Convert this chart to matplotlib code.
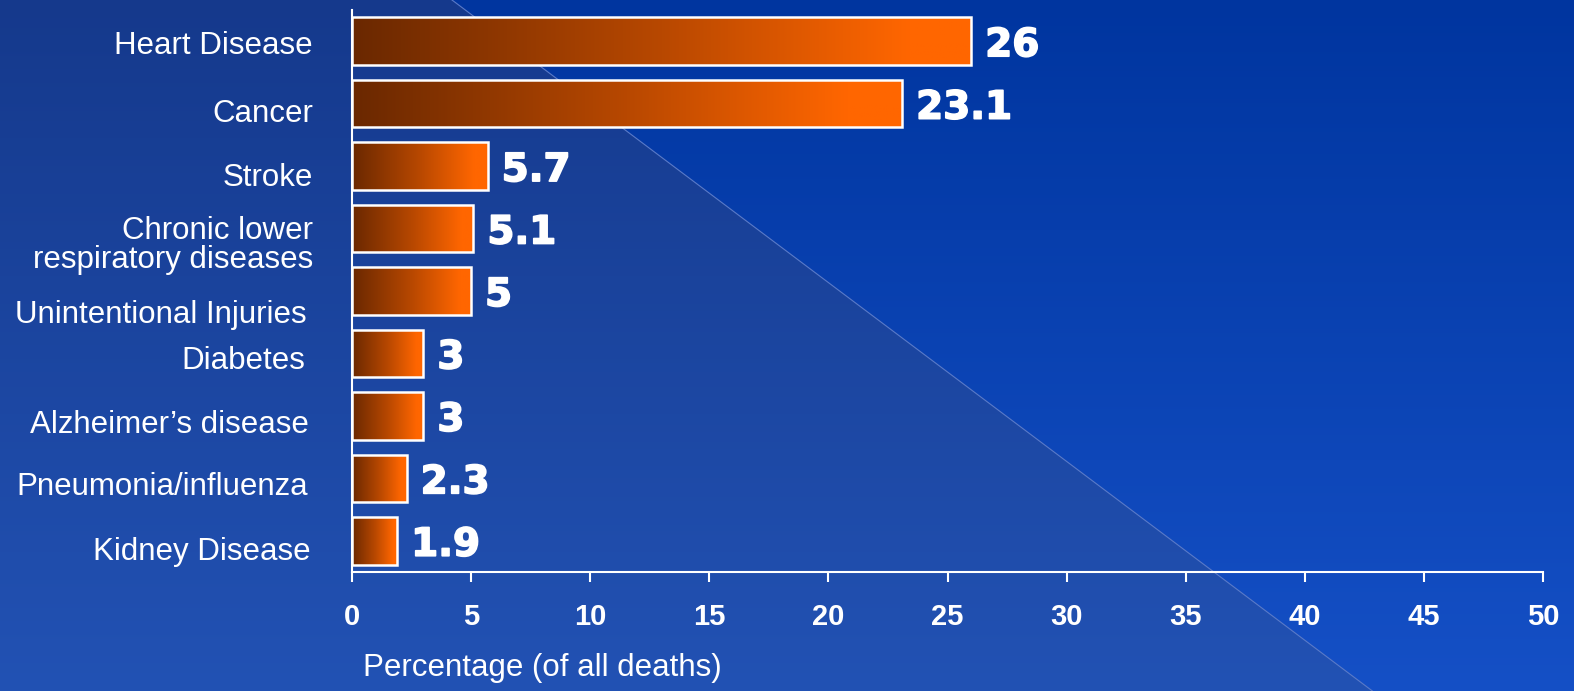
import numpy as np
import matplotlib.pyplot as plt
import matplotlib.patheffects as pe
from matplotlib.colors import LinearSegmentedColormap
from matplotlib.transforms import ScaledTranslation

# data
causes = ['Heart Disease', 'Cancer', 'Stroke', 'Chronic lower\nrespiratory diseases',
          'Unintentional Injuries', 'Diabetes', 'Alzheimer\u2019s disease',
          'Pneumonia/influenza', 'Kidney Disease']
pct = [26, 23.1, 5.7, 5.1, 5, 3, 3, 2.3, 1.9]
pct_labels = ['26', '23.1', '5.7', '5.1', '5', '3', '3', '2.3', '1.9']
xticks = [0, 5, 10, 15, 20, 25, 30, 35, 40, 45, 50]
xlabel = 'Percentage (of all deaths)'

# small per-label nudges (px) so the names sit like in the slide
nudge_x = [0, 0, 0, 0, -6, -8, -4, -5, -2]
nudge_y = [-1, -7, -8, -14, -20, -4, -6, -5, -8]

W, H = 1574, 691
fig = plt.figure(figsize=(W / 100, H / 100), dpi=100)

# background: two blue vertical gradients split by a diagonal
bg = fig.add_axes([0, 0, 1, 1])
bg.axis('off')
yy, xx = np.mgrid[0:H, 0:W]
t = (yy / (H - 1))[..., None]
lt = np.array([0x15, 0x39, 0x8c]) / 255
lb = np.array([0x22, 0x52, 0xb4]) / 255
rt = np.array([0x00, 0x35, 0x9f]) / 255
rb = np.array([0x15, 0x50, 0xc6]) / 255
left = lt + (lb - lt) * t
right = rt + (rb - rt) * t
mask = (xx < 452 + 1.332 * yy)[..., None]
img = np.where(mask, left, right)
bg.imshow(img, extent=[0, W, H, 0], aspect='auto', interpolation='bilinear')
bg.plot([452, 452 + 1.332 * H], [0, H], color='#5a7ac8', lw=0.8)
bg.set_xlim(0, W)
bg.set_ylim(H, 0)

ax = fig.add_axes([352 / W, (H - 572) / H, (1543 - 352) / W, (572 - 10) / H])
ax.patch.set_alpha(0)

cmap = LinearSegmentedColormap.from_list('barfade', [(0, '#6a2800'), (0.5, '#b84800'), (0.9, '#ff6600'), (1, '#ff6600')])
y = np.arange(len(causes))
bars = ax.barh(y, pct, height=0.76, facecolor='none', edgecolor='white', lw=1.8, zorder=3)
grad = np.linspace(0, 1, 256).reshape(1, -1)
for b, v, yi in zip(bars, pct, y):
    im = ax.imshow(grad, cmap=cmap, extent=[0, v, yi + 0.38, yi - 0.38], aspect='auto', zorder=2)
    im.set_clip_path(b)

ax.set_xlim(0, 50)
ax.set_ylim(8.5, -0.5)

for s in ['top', 'right']:
    ax.spines[s].set_visible(False)
for s in ['left', 'bottom']:
    ax.spines[s].set_color('white')
    ax.spines[s].set_linewidth(1.5)

ax.set_xticks(xticks)
ax.set_xticklabels([str(v) for v in xticks], fontsize=21, fontweight='bold',
                   family='Liberation Sans', color='white')
ax.tick_params(axis='x', direction='out', length=7, width=1.5, color='white', pad=15)
ax.set_yticks([])

# category names
for i, lab in enumerate(causes):
    off = ScaledTranslation((-39 + nudge_x[i]) / 100, nudge_y[i] / 100, fig.dpi_scale_trans)
    ax.text(0, y[i], lab, transform=ax.get_yaxis_transform() + off, ha='right',
            va='center_baseline', fontsize=22.5, family='Liberation Sans', color='white',
            linespacing=0.95)

# value labels (stroke makes them a bit heavier, like Verdana Bold)
for v, yi, lbl in zip(pct, y, pct_labels):
    ax.annotate(lbl, (v, yi), xytext=(10, 0), textcoords='offset points', ha='left',
                va='center_baseline', fontsize=28, fontweight='bold', family='DejaVu Sans',
                color='white', path_effects=[pe.withStroke(linewidth=1.2, foreground='white')])

fig.text(363 / W, 1 - 668 / H, xlabel, ha='left', va='center', fontsize=22.5,
         family='Liberation Sans', color='white')

fig.savefig('out.png', dpi=100)
